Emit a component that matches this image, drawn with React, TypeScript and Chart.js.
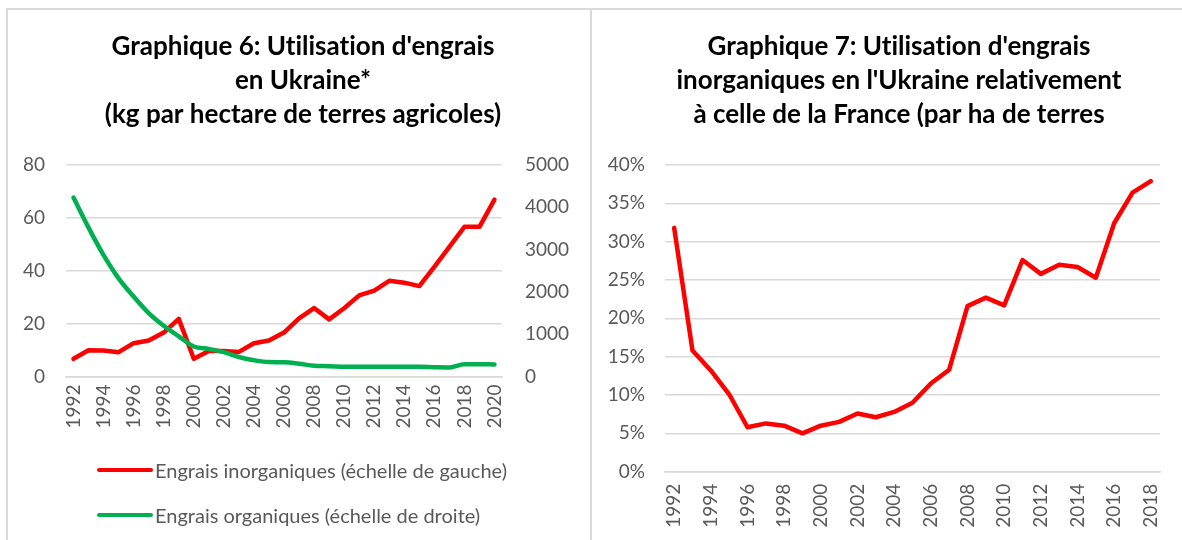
import React, { useEffect, useRef } from 'react';
import { Chart, registerables } from 'chart.js';

Chart.register(...registerables);

const FONT = 'Lato, "Open Sans", sans-serif';
const TICK_COLOR = '#595959';
const GRID_COLOR = '#d9d9d9';

// ---- Graphique 6 data ----
const years6 = [
  '1992', '1993', '1994', '1995', '1996', '1997', '1998', '1999', '2000', '2001',
  '2002', '2003', '2004', '2005', '2006', '2007', '2008', '2009', '2010', '2011',
  '2012', '2013', '2014', '2015', '2016', '2017', '2018', '2019', '2020',
];
const inorganic = [
  6.7, 9.9, 9.8, 9.2, 12.6, 13.6, 16.6, 21.8, 6.7, 9.6,
  9.6, 9.3, 12.6, 13.6, 16.6, 22.0, 25.9, 21.6, 25.8, 30.7,
  32.5, 36.2, 35.5, 34.2, 41.5, 49.0, 56.6, 56.6, 66.9,
];
const organic = [
  4230, 3520, 2870, 2320, 1890, 1500, 1200, 950, 710, 650,
  575, 460, 385, 340, 335, 300, 255, 245, 230, 228,
  228, 228, 228, 228, 220, 215, 290, 290, 285,
];
const title6 = [
  "Graphique 6: Utilisation d'engrais",
  'en Ukraine*',
  '(kg par hectare de terres agricoles)',
];
const legend6 = [
  'Engrais inorganiques (échelle de gauche)',
  'Engrais organiques (échelle de droite)',
];

// ---- Graphique 7 data ----
const years7 = [
  '1992', '1993', '1994', '1995', '1996', '1997', '1998', '1999', '2000', '2001',
  '2002', '2003', '2004', '2005', '2006', '2007', '2008', '2009', '2010', '2011',
  '2012', '2013', '2014', '2015', '2016', '2017', '2018',
];
const ratioPct = [
  31.8, 15.8, 13.2, 10.1, 5.8, 6.3, 6.0, 5.0, 6.0, 6.5,
  7.6, 7.1, 7.8, 9.0, 11.5, 13.3, 21.6, 22.7, 21.7, 27.6,
  25.8, 27.0, 26.7, 25.3, 32.4, 36.4, 37.9,
];
const title7 = [
  "Graphique 7: Utilisation d'engrais",
  "inorganiques en l'Ukraine relativement",
  'à celle de la France (par ha de terres',
];

const tickFont = { family: FONT, size: 19 };
const titleFont = { family: FONT, size: 26, weight: 'bold' as const, lineHeight: 34 / 26 };

// disable ligatures (e.g. "ti") in canvas text
const noLigatures = {
  id: 'noLigatures',
  beforeDraw: (chart: any) => {
    try { chart.ctx.textRendering = 'optimizeSpeed'; } catch (e) { /* ignore */ }
  },
};

function Chart6() {
  const ref = useRef<HTMLCanvasElement>(null);
  useEffect(() => {
    const chart = new Chart(ref.current!, {
      type: 'line',
      data: {
        labels: years6,
        datasets: [
          {
            label: legend6[0],
            data: inorganic,
            borderColor: '#FF0000',
            backgroundColor: '#FF0000',
            borderWidth: 4.5,
            pointRadius: 0,
            yAxisID: 'y',
            order: 1,
            borderJoinStyle: 'round',
            borderCapStyle: 'round',
          },
          {
            label: legend6[1],
            data: organic,
            borderColor: '#00B050',
            backgroundColor: '#00B050',
            borderWidth: 4.5,
            pointRadius: 0,
            yAxisID: 'y1',
            order: 0,
            cubicInterpolationMode: 'monotone',
            borderJoinStyle: 'round',
            borderCapStyle: 'round',
          },
        ],
      },
      plugins: [noLigatures],
      options: {
        responsive: false,
        animation: false,
        layout: { padding: 0 },
        plugins: {
          legend: { display: false },
          tooltip: { enabled: false },
          title: {
            display: true,
            text: title6,
            color: '#000000',
            font: titleFont,
            padding: { top: 20, bottom: 33 },
          },
        },
        scales: {
          x: {
            offset: true,
            grid: { display: false, drawTicks: false },
            border: { display: true, color: GRID_COLOR, width: 1.5 },
            ticks: {
              autoSkip: false,
              maxRotation: 90,
              minRotation: 90,
              padding: 8,
              color: TICK_COLOR,
              font: tickFont,
              callback: (_v: any, i: number) => (i % 2 === 0 ? years6[i] : ''),
            },
            afterFit: (s: any) => { s.height = 163.5; },
          },
          y: {
            position: 'left',
            min: 0,
            max: 80,
            ticks: { stepSize: 20, padding: 21, color: TICK_COLOR, font: tickFont },
            grid: { color: GRID_COLOR, lineWidth: 1.5, drawTicks: false },
            border: { display: false },
            afterFit: (s: any) => { s.width = 50; },
          },
          y1: {
            position: 'right',
            min: 0,
            max: 5000,
            ticks: {
              stepSize: 1000,
              padding: 23,
              color: TICK_COLOR,
              font: tickFont,
              callback: (v: any) => String(v),
            },
            grid: { display: false, drawTicks: false },
            border: { display: false },
            afterFit: (s: any) => { s.width = 88; },
          },
        },
      },
    } as any);
    return () => chart.destroy();
  }, []);
  return <canvas ref={ref} width={574} height={530} style={{ position: 'absolute', left: 16, top: 10 }} />;
}

function Chart7() {
  const ref = useRef<HTMLCanvasElement>(null);
  useEffect(() => {
    const chart = new Chart(ref.current!, {
      type: 'line',
      data: {
        labels: years7,
        datasets: [
          {
            label: 'Ukraine / France',
            data: ratioPct,
            borderColor: '#FF0000',
            backgroundColor: '#FF0000',
            borderWidth: 4.5,
            pointRadius: 0,
            borderJoinStyle: 'round',
            borderCapStyle: 'round',
          },
        ],
      },
      plugins: [noLigatures],
      options: {
        responsive: false,
        animation: false,
        layout: { padding: 0 },
        plugins: {
          legend: { display: false },
          tooltip: { enabled: false },
          title: {
            display: true,
            text: title7,
            color: '#000000',
            font: titleFont,
            padding: { top: 20, bottom: 33 },
          },
        },
        scales: {
          x: {
            offset: true,
            grid: { display: false, drawTicks: false },
            border: { display: true, color: GRID_COLOR, width: 1.5 },
            ticks: {
              autoSkip: false,
              maxRotation: 90,
              minRotation: 90,
              padding: 12,
              color: TICK_COLOR,
              font: tickFont,
              callback: (_v: any, i: number) => (i % 2 === 0 ? years7[i] : ''),
            },
            afterFit: (s: any) => { s.height = 68.3; },
          },
          y: {
            position: 'left',
            min: 0,
            max: 40,
            ticks: {
              stepSize: 5,
              padding: 20,
              color: TICK_COLOR,
              font: tickFont,
              callback: (v: any) => `${v}%`,
            },
            grid: { color: GRID_COLOR, lineWidth: 1.5, drawTicks: false },
            border: { display: false },
            afterFit: (s: any) => { s.width = 73; },
          },
          spacer: {
            position: 'right',
            display: true,
            ticks: { display: false },
            grid: { display: false, drawTicks: false },
            border: { display: false },
            afterFit: (s: any) => { s.width = 46; },
          },
        },
      },
    } as any);
    return () => chart.destroy();
  }, []);
  return <canvas ref={ref} width={614} height={530} style={{ position: 'absolute', left: 592, top: 10 }} />;
}

function LegendRow({ color, text, top }: { color: string; text: string; top: number }) {
  return (
    <div
      style={{
        position: 'absolute',
        left: 97,
        top: top - 13,
        height: 26,
        display: 'flex',
        alignItems: 'center',
        fontFamily: FONT,
        fontSize: 20,
        color: TICK_COLOR,
        whiteSpace: 'nowrap',
        fontVariantLigatures: 'none',
      }}
    >
      <div style={{ width: 56, height: 4.5, background: color, borderRadius: 2, marginRight: 2 }} />
      <span>{text}</span>
    </div>
  );
}

export default function App() {
  return (
    <div
      style={{
        position: 'absolute',
        left: 0,
        top: 0,
        width: 1182,
        height: 540,
        background: '#ffffff',
        overflow: 'hidden',
      }}
    >
      <div style={{ position: 'absolute', left: 6, top: 8, width: 1176, height: 2, background: GRID_COLOR }} />
      <div style={{ position: 'absolute', left: 6, top: 8, width: 2, height: 532, background: GRID_COLOR }} />
      <div style={{ position: 'absolute', left: 590, top: 8, width: 2, height: 532, background: GRID_COLOR }} />
      <Chart6 />
      <Chart7 />
      <LegendRow color="#FF0000" text={legend6[0]} top={470} />
      <LegendRow color="#00B050" text={legend6[1]} top={515} />
    </div>
  );
}
